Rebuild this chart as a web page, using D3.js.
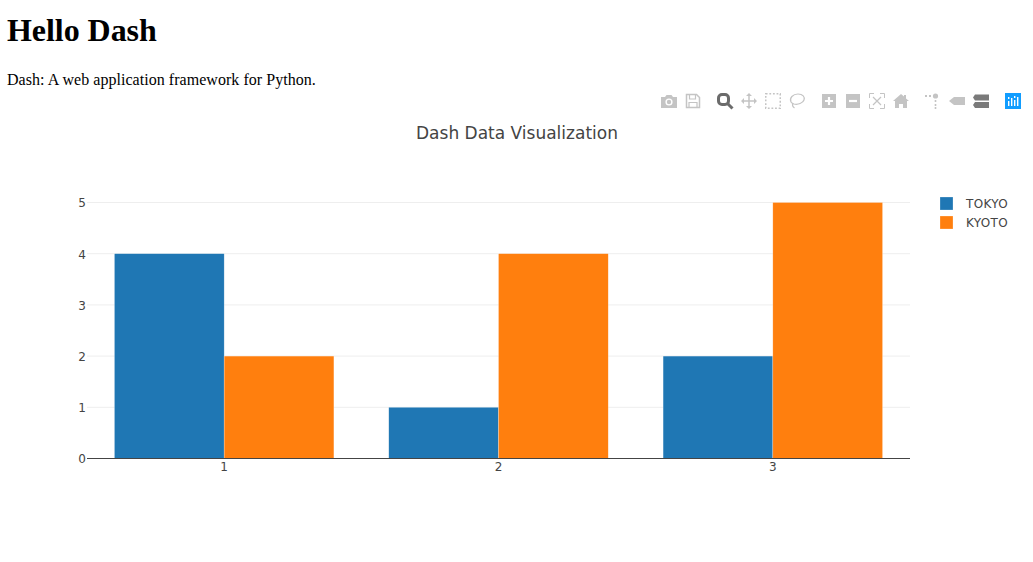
<!DOCTYPE html>
<html>
<head>
<meta charset="utf-8">
<title>Hello Dash</title>
<script src="https://d3js.org/d3.v7.min.js"></script>
<style>
  html, body { margin: 0; padding: 0; background: #fff; overflow: hidden; }
  body { font-family: "Liberation Serif", serif; color: #000; }
  h1 { position: absolute; left: 7px; top: 12px; margin: 0; font-size: 32px; line-height: 37px; letter-spacing: -0.05px; }
  p { position: absolute; left: 7px; top: 71px; margin: 0; font-size: 16px; line-height: 18px; letter-spacing: 0.04px; }
  svg { position: absolute; left: 0; top: 0; }
  text { font-family: "DejaVu Sans", Verdana, sans-serif; }
</style>
</head>
<body>
<h1>Hello Dash</h1>
<p>Dash: A web application framework for Python.</p>
<div id="chart"></div>
<script>
// chart data
var categories = ["1", "2", "3"];
var seriesNames = ["TOKYO", "KYOTO"];
var tokyo = [4, 1, 2];
var kyoto = [2, 4, 5];
var yTicks = [0, 1, 2, 3, 4, 5];
var colors = ["#1f77b4", "#ff7f0e"];

var svgWidth = 1033;
var svgHeight = 562;

// plot area
var left = 87, right = 910, top_ = 202.5, bottom = 458.5;

var svg = d3.select("#chart").append("svg")
  .attr("width", svgWidth)
  .attr("height", svgHeight);

var x = d3.scaleBand().domain(categories).range([left, right])
  .paddingInner(0.2).paddingOuter(0.1);
var xInner = d3.scaleBand().domain(seriesNames).range([0, x.bandwidth()]);
var y = d3.scaleLinear().domain([0, 5]).range([bottom, top_]);

// title
svg.append("text")
  .attr("x", 517).attr("y", 139)
  .attr("text-anchor", "middle")
  .style("font-size", "17px")
  .attr("fill", "#444")
  .text("Dash Data Visualization");

// grid lines
var grid = svg.append("g")
  .attr("transform", "translate(" + left + ",0)")
  .call(d3.axisLeft(y).offset(0).tickValues(yTicks.slice(1)).tickSize(-(right - left)).tickFormat(""));
grid.select(".domain").remove();
grid.selectAll("line").attr("stroke", "#eee");

// bars
var data = [tokyo, kyoto];
var groups = svg.selectAll("g.series")
  .data(data)
  .enter().append("g")
  .attr("class", "series")
  .attr("fill", function(d, i) { return colors[i]; });

groups.each(function(vals, s) {
  d3.select(this).selectAll("rect")
    .data(vals)
    .enter().append("rect")
    .attr("x", function(d, i) { return x(categories[i]) + xInner(seriesNames[s]); })
    .attr("y", function(d) { return y(d); })
    .attr("width", xInner.bandwidth())
    .attr("height", function(d) { return y(0) - y(d); })
    .attr("stroke", "#fff")
    .attr("stroke-opacity", 0.5)
    .attr("stroke-width", 0.5);
});

// axes
var yAxis = svg.append("g")
  .attr("transform", "translate(" + left + ",0)")
  .call(d3.axisLeft(y).offset(0).tickValues(yTicks).tickSize(0).tickPadding(1).tickFormat(d3.format("d")));
yAxis.select(".domain").remove();
yAxis.selectAll("text").attr("dy", "0.4em").style("font-size", "12px").attr("fill", "#444");

var xAxis = svg.append("g")
  .attr("transform", "translate(0," + bottom + ")")
  .call(d3.axisBottom(x).offset(0).tickSize(0).tickPadding(4));
xAxis.select(".domain").attr("stroke", "#444").attr("stroke-width", 1);
xAxis.selectAll("text").style("font-size", "12px").attr("fill", "#444");

// legend
var legend = svg.selectAll("g.legend")
  .data(seriesNames)
  .enter().append("g")
  .attr("class", "legend")
  .attr("transform", function(d, i) { return "translate(940," + (197 + i * 19) + ")"; });
legend.append("rect")
  .attr("width", 13).attr("height", 13)
  .attr("fill", function(d, i) { return colors[i]; })
  .attr("stroke", "#fff").attr("stroke-opacity", 0.5).attr("stroke-width", 0.5);
legend.append("text")
  .attr("x", 26).attr("y", 11)
  .style("font-size", "12px")
  .style("letter-spacing", "0.35px")
  .attr("fill", "#444")
  .text(function(d) { return d; });

// modebar icons, all in a 16x16 box centred on the button
var iconOff = "#c4c4c4", iconOn = "#6b6b6b";
var bar = svg.append("g").attr("class", "modebar");
function icon(cx, draw) {
  var g = bar.append("g").attr("transform", "translate(" + (cx - 8) + ",93)");
  draw(g);
}
function solid(g, d, c) { g.append("path").attr("d", d).attr("fill", c || iconOff); }
function outline(g, d, c, w, dash) {
  g.append("path").attr("d", d).attr("fill", "none")
    .attr("stroke", c || iconOff).attr("stroke-width", w || 1.5)
    .attr("stroke-dasharray", dash || null);
}

// camera
icon(669, function(g) {
  solid(g, "M0 4h4l1.5-2h5L12 4h4v11H0z");
  g.append("circle").attr("cx", 8).attr("cy", 9).attr("r", 3.6).attr("fill", "#fff");
  g.append("circle").attr("cx", 8).attr("cy", 9).attr("r", 2.2).attr("fill", iconOff);
});
// save
icon(693, function(g) {
  outline(g, "M1.5 1.5h10l3 3v10h-13z", iconOff, 1.5);
  outline(g, "M4.5 2v4h6V2M4 14V9.5h8V14", iconOff, 1.2);
});
// zoom (active)
icon(725, function(g) {
  g.append("rect").attr("x", 1.5).attr("y", 1.5).attr("width", 10).attr("height", 10).attr("rx", 3.5)
    .attr("fill", "none").attr("stroke", iconOn).attr("stroke-width", 3);
  outline(g, "M10.5 10.5L15.5 15.5", iconOn, 3);
});
// pan
icon(749, function(g) {
  outline(g, "M8 1v14M1 8h14", iconOff, 1.5);
  solid(g, "M8 0l3 3H5zM8 16l-3-3h6zM0 8l3-3v6zM16 8l-3 3V5z");
});
// box select
icon(773, function(g) {
  outline(g, "M0.75 0.75h14.5v14.5h-14.5z", iconOff, 1.5, "1.8 1.8");
});
// lasso
icon(797, function(g) {
  outline(g, "M2 9C0 5 4 1 9 1s7 3 6 6-6 5-10 4C3.5 10.5 2.5 10 2 9zM4 10c-1 2 0 4 1.5 5", iconOff, 1.2);
});
// zoom in
icon(829, function(g) {
  solid(g, "M1 1h14v14H1z");
  outline(g, "M8 4v8M4 8h8", "#fff", 2.2);
});
// zoom out
icon(853, function(g) {
  solid(g, "M1 1h14v14H1z");
  outline(g, "M4 8h8", "#fff", 2.2);
});
// autoscale
icon(877, function(g) {
  outline(g, "M0.5 5V0.5H5M11 0.5h4.5V5M15.5 11v4.5H11M5 15.5H0.5V11", iconOff, 1);
  outline(g, "M4 4l8 8M12 4l-8 8", iconOff, 1.2);
});
// home
icon(901, function(g) {
  solid(g, "M8 1l3 2.6V2h2v3.4L16 8h-2v7H10v-4H6v4H2V8H0z");
});
// spike lines
icon(933, function(g) {
  solid(g, "M0 2h2v2H0zM4 2h2v2H4z");
  g.append("circle").attr("cx", 10.5).attr("cy", 3).attr("r", 2.6).attr("fill", iconOff);
  solid(g, "M9.7 7h1.6v2H9.7zM9.7 11h1.6v2H9.7zM9.7 14h1.6v2H9.7z");
});
// hover closest
icon(957, function(g) {
  solid(g, "M0 8l5-4h11v8H5z");
});
// hover compare
icon(981, function(g) {
  solid(g, "M0 4.5l2-3h14v6H2zM0 12l2-3h14v6H2z", "#7a7a7a");
});
// plotly logo
icon(1013, function(g) {
  solid(g, "M0 0h16v16H0z", "#119dff");
  solid(g, "M3 8h1.4v5H3zM6 5h1.4v8H6zM9 7h1.4v6H9zM12 4h1.4v9H12z", "#fff");
  solid(g, "M3 4h1.4v2H3zM9 3h1.4v2H9z", "#fff");
});
</script>
</body>
</html>
